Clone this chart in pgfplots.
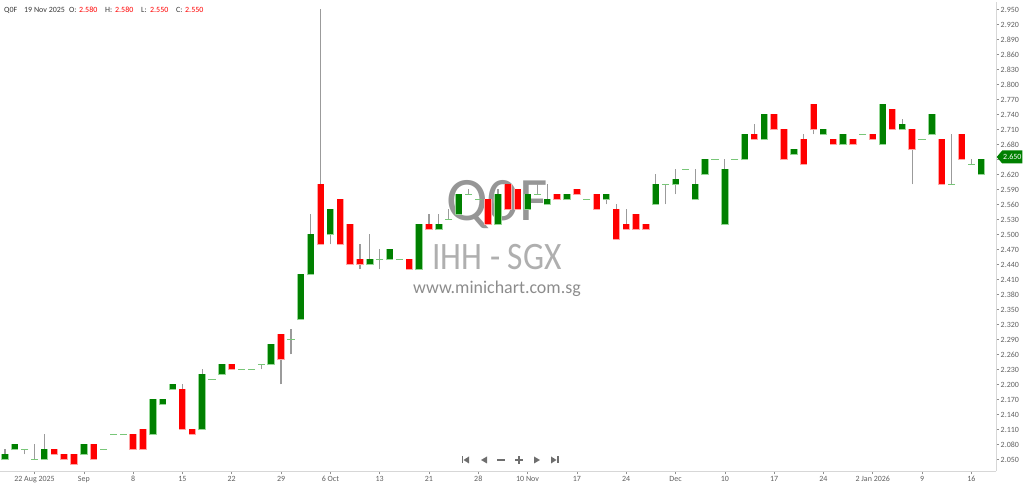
\documentclass[border=0pt]{standalone}
\usepackage{pgfplots}
\pgfplotsset{compat=1.18}
\usepackage{pgfplotstable}
\usepackage{fontspec}
\setmainfont{Carlito}
\usetikzlibrary{shapes.symbols}
\definecolor{cgreen}{RGB}{0,128,0}
\definecolor{cred}{RGB}{255,0,0}
\definecolor{cgreenlt}{RGB}{150,215,150}
\definecolor{credlt}{RGB}{255,165,165}
\definecolor{wick}{RGB}{155,155,155}
\definecolor{tickc}{RGB}{95,95,95}
\definecolor{axc}{RGB}{215,215,215}
\definecolor{navc}{RGB}{110,110,110}

\pgfplotstableread{
i O H L C
0 2.05 2.07 2.05 2.06
1 2.07 2.08 2.07 2.08
2 2.07 2.07 2.06 2.07
3 2.05 2.08 2.05 2.05
4 2.05 2.10 2.05 2.07
5 2.07 2.07 2.06 2.06
6 2.06 2.06 2.05 2.05
7 2.06 2.06 2.04 2.04
8 2.06 2.08 2.06 2.08
9 2.08 2.08 2.05 2.05
10 2.07 2.07 2.07 2.07
11 2.10 2.10 2.10 2.10
12 2.10 2.10 2.10 2.10
13 2.10 2.10 2.07 2.07
14 2.11 2.11 2.07 2.07
15 2.10 2.17 2.10 2.17
16 2.16 2.17 2.16 2.17
17 2.19 2.20 2.19 2.20
18 2.19 2.20 2.11 2.11
19 2.11 2.11 2.10 2.10
20 2.11 2.23 2.11 2.22
21 2.21 2.21 2.21 2.21
22 2.22 2.24 2.22 2.24
23 2.24 2.24 2.23 2.23
24 2.23 2.23 2.23 2.23
25 2.23 2.23 2.23 2.23
26 2.24 2.24 2.23 2.24
27 2.24 2.28 2.24 2.28
28 2.30 2.30 2.20 2.25
29 2.29 2.31 2.26 2.29
30 2.33 2.42 2.33 2.42
31 2.42 2.54 2.42 2.50
32 2.60 2.95 2.48 2.48
33 2.50 2.55 2.48 2.55
34 2.57 2.57 2.48 2.48
35 2.52 2.52 2.44 2.44
36 2.45 2.48 2.43 2.44
37 2.44 2.50 2.44 2.45
38 2.45 2.47 2.43 2.45
39 2.45 2.47 2.45 2.47
40 2.45 2.45 2.45 2.45
41 2.45 2.45 2.43 2.43
42 2.43 2.52 2.43 2.52
43 2.52 2.54 2.51 2.51
44 2.51 2.54 2.51 2.52
45 2.53 2.55 2.53 2.53
46 2.54 2.58 2.54 2.58
47 2.58 2.59 2.58 2.58
48 2.57 2.57 2.57 2.57
49 2.57 2.57 2.52 2.52
50 2.52 2.59 2.52 2.58
51 2.60 2.60 2.55 2.55
52 2.59 2.59 2.55 2.55
53 2.55 2.58 2.55 2.58
54 2.58 2.60 2.58 2.58
55 2.56 2.60 2.56 2.57
56 2.58 2.58 2.57 2.57
57 2.57 2.58 2.57 2.58
58 2.59 2.59 2.58 2.58
59 2.57 2.57 2.57 2.57
60 2.58 2.58 2.55 2.55
61 2.57 2.58 2.56 2.58
62 2.55 2.56 2.49 2.49
63 2.52 2.55 2.51 2.51
64 2.54 2.54 2.51 2.51
65 2.52 2.52 2.51 2.51
66 2.56 2.62 2.56 2.60
67 2.60 2.60 2.56 2.60
68 2.60 2.63 2.58 2.61
69 2.63 2.63 2.63 2.63
70 2.57 2.63 2.57 2.60
71 2.62 2.65 2.62 2.65
72 2.65 2.65 2.65 2.65
73 2.52 2.65 2.52 2.63
74 2.65 2.65 2.65 2.65
75 2.65 2.70 2.65 2.70
76 2.70 2.72 2.69 2.69
77 2.69 2.74 2.69 2.74
78 2.74 2.74 2.71 2.71
79 2.71 2.71 2.65 2.65
80 2.66 2.67 2.66 2.67
81 2.69 2.70 2.64 2.64
82 2.76 2.76 2.70 2.71
83 2.70 2.71 2.70 2.71
84 2.69 2.69 2.68 2.68
85 2.68 2.70 2.68 2.70
86 2.69 2.69 2.68 2.68
87 2.70 2.70 2.70 2.70
88 2.70 2.70 2.69 2.69
89 2.68 2.76 2.68 2.76
90 2.75 2.75 2.71 2.71
91 2.71 2.73 2.71 2.72
92 2.71 2.71 2.60 2.67
93 2.69 2.69 2.69 2.69
94 2.70 2.74 2.70 2.74
95 2.69 2.69 2.60 2.60
96 2.60 2.70 2.60 2.60
97 2.70 2.70 2.65 2.65
98 2.64 2.65 2.64 2.64
99 2.62 2.65 2.62 2.65
}\candles

\begin{document}
\begin{tikzpicture}[x=1bp,y=1bp]
\path[use as bounding box] (0,0) rectangle (1024,484);
% watermark (behind the candles)
\node[text={rgb,255:red,150;green,150;blue,150}, font=\fontsize{62}{62}\selectfont, inner sep=0] at (497,279) {Q0F};
\node[text={rgb,255:red,175;green,175;blue,175}, font=\fontsize{39}{39}\selectfont, inner sep=0, xscale=0.86] at (497,227) {IHH - SGX};
\node[text={rgb,255:red,140;green,140;blue,140}, font=\fontsize{18}{18}\selectfont, inner sep=0] at (497,195) {www.minichart.com.sg};

\begin{axis}[
  at={(0,25)}, anchor=south west,
  width=996bp, height=469bp, scale only axis,
  xmin=-0.5, xmax=100.5, ymin=2.026, ymax=2.964,
  axis x line*=bottom, axis y line*=right,
  axis line style={draw=axc, line width=0.8bp},
  tick style={draw=tickc!70, line width=0.6bp},
  major tick length=3bp, tick align=outside,
  xtick={3,8,...,98},
  xticklabels={22 Aug 2025, Sep, 8, 15, 22, 29, 6 Oct, 13, 21, 28, 10 Nov, 17, 24, Dec, 10, 17, 24, 2 Jan 2026, 9, 16},
  ytick={2.05,2.08,2.11,2.14,2.17,2.20,2.23,2.26,2.29,2.32,2.35,2.38,2.41,2.44,2.47,2.50,2.53,2.56,2.59,2.62,2.65,2.68,2.71,2.74,2.77,2.80,2.83,2.86,2.89,2.92,2.95},
  yticklabels={2.050,2.080,2.110,2.140,2.170,2.200,2.230,2.260,2.290,2.320,2.350,2.380,2.410,2.440,2.470,2.500,2.530,2.560,2.590,2.620,,2.680,2.710,2.740,2.770,2.800,2.830,2.860,2.890,2.920,2.950},
  ticklabel style={font=\fontsize{8}{9}\selectfont, text=tickc},
  yticklabel style={inner sep=1.5bp},
  xticklabel style={inner sep=1.5bp},
  clip mode=individual,
]
% wicks
\addplot[draw=wick, line width=1.2bp, quiver={u=0, v=\thisrow{H}-\thisrow{L}}] table[x=i, y=L] {\candles};
% green bodies
\addplot[draw=cgreenlt, line width=7.4bp, quiver={u=0, v=\thisrow{C}-\thisrow{O}, every arrow/.style={shorten <=-0.7bp, shorten >=-0.7bp}},
  restrict expr to domain={\thisrow{C}-\thisrow{O}}{0.001:10}] table[x=i, y=O] {\candles};
\addplot[draw=cgreen, line width=6bp, quiver={u=0, v=\thisrow{C}-\thisrow{O}},
  restrict expr to domain={\thisrow{C}-\thisrow{O}}{0.001:10}] table[x=i, y=O] {\candles};
% red bodies
\addplot[draw=credlt, line width=7.4bp, quiver={u=0, v=\thisrow{C}-\thisrow{O}, every arrow/.style={shorten <=-0.7bp, shorten >=-0.7bp}},
  restrict expr to domain={\thisrow{C}-\thisrow{O}}{-10:-0.001}] table[x=i, y=O] {\candles};
\addplot[draw=cred, line width=6bp, quiver={u=0, v=\thisrow{C}-\thisrow{O}},
  restrict expr to domain={\thisrow{C}-\thisrow{O}}{-10:-0.001}] table[x=i, y=O] {\candles};
% doji
\addplot[only marks, mark=-, mark size=3.6bp, mark options={draw=cgreenlt!80!cgreen, line width=1.2bp},
  restrict expr to domain={\thisrow{C}-\thisrow{O}}{-0.001:0.001}] table[x=i, y=C] {\candles};
\end{axis}

% last price marker
\node[signal, signal to=west, signal pointer angle=100, fill=cgreen, text=white, inner sep=1bp, minimum height=13bp,
  font=\fontsize{8}{9}\selectfont, anchor=west] at (996.5,327) {2.650};

% header
\begin{scope}[every node/.style={anchor=base west, inner sep=0, font=\fontsize{8}{9}\selectfont}]
\node[text=tickc!60!black] at (4,471) {Q0F};
\node[text=tickc!60!black] at (24,471) {19 Nov 2025};
\node[text=tickc!60!black] at (69,471) {O:};
\node[text=cred] at (79,471) {2.580};
\node[text=tickc!60!black] at (105,471) {H:};
\node[text=cred] at (115,471) {2.580};
\node[text=tickc!60!black] at (141,471) {L:};
\node[text=cred] at (150,471) {2.550};
\node[text=tickc!60!black] at (176,471) {C:};
\node[text=cred] at (185,471) {2.550};
\end{scope}

% navigation buttons
\begin{scope}[navc]
\fill (461.5,20.5) rectangle (463,27.5); \fill (469,20.5) -- (469,27.5) -- (463.5,24) -- cycle;
\fill (487,20.5) -- (487,27.5) -- (481,24) -- cycle;
\fill (497,23.4) rectangle (505,24.6);
\fill (515,23.4) rectangle (523,24.6); \fill (518.4,20) rectangle (519.6,28);
\fill (534,20.5) -- (534,27.5) -- (540,24) -- cycle;
\fill (551,20.5) -- (551,27.5) -- (556.5,24) -- cycle; \fill (557,20.5) rectangle (558.5,27.5);
\end{scope}
\end{tikzpicture}
\end{document}
